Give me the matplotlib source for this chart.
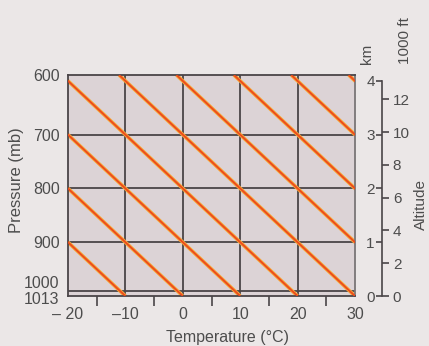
import numpy as np
import matplotlib
matplotlib.use('Agg')
import matplotlib.pyplot as plt
from matplotlib.transforms import ScaledTranslation

plt.rcParams['font.family'] = ['Liberation Sans', 'DejaVu Sans']

''' pressure levels and the altitude (km) they sit at '''
pressures = [600, 700, 800, 900, 1000, 1013]
press_alt = [4.11, 3.0, 2.0, 1.0, 0.1, 0.0]

''' temperature axis '''
temps = [-20, -10, 0, 10, 20, 30]
temp_labels = ['\u2013 20', '\u201310', '0', '10', '20', '30']
temp_minor = [-15, -5, 5, 15, 25]

''' altitude scales '''
km_ticks = [0, 1, 2, 3, 4]
ft_ticks = [0, 2, 4, 6, 8, 10, 12]

''' dry adiabats: sea level temperature, lapse rate 10 C per km '''
adiabat_t0 = [-10, 0, 10, 20, 30, 40, 50, 60, 70]
lapse = 10.0

ztop = press_alt[0]
txt = '#4d4d4d'
grid_c = '#4a4548'

fig = plt.figure(figsize=(4.29, 3.46), dpi=100)
fig.patch.set_facecolor('#ebe7e7')
ax = fig.add_axes([68/429, 50/346, 287/429, 221/346])
ax.set_facecolor('#dcd3d6')
ax.set_xlim(temps[0], temps[-1])
ax.set_ylim(0, ztop)

# grid lines
for t in temps[1:-1]:
    ax.axvline(t, color=grid_c, lw=1.3, zorder=1)
for z in press_alt[1:5]:
    ax.axhline(z, color=grid_c, lw=1.3, zorder=1)

# adiabats
for t0 in adiabat_t0:
    xs = [t0, t0 - lapse * ztop]
    ys = [0, ztop]
    ax.plot(xs, ys, color='#f7a733', lw=2.6, zorder=2, solid_capstyle='butt')
    ax.plot(xs, ys, color='#ec4a1e', lw=1.3, zorder=3, solid_capstyle='butt')

for s in ax.spines.values():
    s.set_color(grid_c)
    s.set_linewidth(1.3)
ax.spines['right'].set_color('#7a7577')

# pressure axis
ax.set_yticks(press_alt)
ax.set_yticklabels([str(p) for p in pressures])
ax.tick_params(axis='y', length=0, pad=6, labelsize=11.5, labelcolor=txt)
ylabs = ax.get_yticklabels()
ylabs[4].set_va('bottom')
ylabs[5].set_va('center')
ylabs[5].set_transform(ylabs[5].get_transform() +
                       ScaledTranslation(0, -2.5/72, fig.dpi_scale_trans))
ax.set_ylabel('Pressure (mb)', fontsize=12, color=txt)
ax.yaxis.set_label_coords(-0.155, 0.525)

# temperature axis
ax.set_xticks(temps)
ax.set_xticklabels(temp_labels)
ax.set_xticks(temp_minor, minor=True)
ax.tick_params(axis='x', which='major', length=0, pad=8, labelsize=11.5, labelcolor=txt)
ax.tick_params(axis='x', which='minor', length=7, width=1.2, color=grid_c, direction='out')
ax.set_xlabel('Temperature (\u00b0C)', fontsize=11.5, color=txt)
ax.xaxis.set_label_coords(0.557, -0.155)

# km scale (labels on left of the spine)
ax_km = ax.twinx()
ax_km.set_ylim(0, ztop)
ax_km.yaxis.set_ticks_position('left')
for k in ['top', 'bottom', 'right']:
    ax_km.spines[k].set_visible(False)
ax_km.spines['left'].set_position(('axes', 1.093))
ax_km.spines['left'].set_bounds(0, 4)
ax_km.spines['left'].set_color(grid_c)
ax_km.spines['left'].set_linewidth(1.2)
ax_km.set_yticks(km_ticks)
ax_km.tick_params(axis='y', length=4, width=1.2, color=grid_c, pad=1,
                  labelsize=11, labelcolor=txt)

# 1000 ft scale
ax_ft = ax.twinx()
ax_ft.set_ylim(0, ztop * 3.28084)
for k in ['top', 'bottom', 'left']:
    ax_ft.spines[k].set_visible(False)
ax_ft.spines['right'].set_position(('axes', 1.093))
ax_ft.spines['right'].set_visible(False)
ax_ft.set_yticks(ft_ticks)
ax_ft.tick_params(axis='y', length=5, width=1.2, color=grid_c, pad=3,
                  labelsize=11, labelcolor=txt)

fig.text(367/429, 1 - 54/346, 'km', rotation=90, ha='center', va='center',
         fontsize=11, color=txt)
fig.text(405/429, 1 - 41/346, '1000 ft', rotation=90, ha='center', va='center',
         fontsize=11, color=txt)
fig.text(421/429, 1 - 205/346, 'Altitude', rotation=90, ha='center', va='center',
         fontsize=11, color=txt)

fig.savefig('out.png', dpi=100, facecolor=fig.get_facecolor())
